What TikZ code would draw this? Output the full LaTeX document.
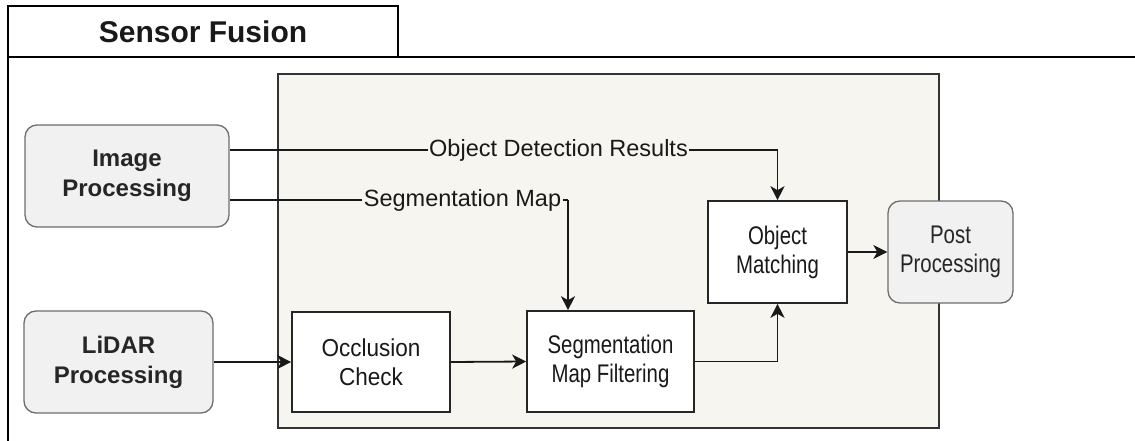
\documentclass[tikz,border=0pt]{standalone}
\usepackage{fontspec}
\setmainfont{Liberation Sans}
\newfontfamily\narrowfont[FakeStretch=0.8]{Liberation Sans}
\newfontfamily\midfont[FakeStretch=0.92]{Liberation Sans}
\usetikzlibrary{arrows.meta}

\definecolor{panel}{RGB}{247,245,240}
\definecolor{boxgray}{RGB}{241,241,241}
\definecolor{edgegray}{RGB}{110,110,110}

\tikzset{
  gbox/.style={draw=edgegray, fill=boxgray, rounded corners=12pt, line width=1.3pt,
    font=\bfseries\fontsize{24}{30}\selectfont, text=black!85, align=center, inner sep=0pt},
  wbox/.style={draw=black!85, fill=white, line width=1.6pt,
    font=\narrowfont\fontsize{25.5}{29}\selectfont, text=black!90, align=center, inner sep=0pt},
  lbl/.style={fill=panel, inner sep=1.5pt, font=\fontsize{23.5}{28}\selectfont, text=black!90},
  arr/.style={line width=1.8pt, draw=black!90, -{Stealth[length=14pt,width=14pt,inset=4pt]}},
  link/.style={line width=1.8pt, draw=black!90}
}

\begin{document}
\begin{tikzpicture}[x=1pt,y=-1pt]
\useasboundingbox (0,0) rectangle (1135,441);
\fill[white] (0,0) rectangle (1135,441);

% outer container with its title tab
\draw[line width=2pt, black] (8,441) -- (8,6) -- (398,6) -- (398,57);
\draw[line width=2pt, black] (8,57) -- (1135,57);
\node[font=\bfseries\fontsize{30}{36}\selectfont, text=black!90] (title) at (203,31.5) {Sensor Fusion};

% fusion panel
\draw[fill=panel, draw=black!80, line width=1.6pt] (278,74) rectangle (939,428);

% blocks
\node[gbox, minimum width=204pt, minimum height=102pt] (img) at (127,176) {Image\\Processing};
\node[gbox, minimum width=189pt, minimum height=102pt] (lidar) at (118.5,362) {LiDAR\\Processing};
\node[wbox, font=\midfont\fontsize{24.5}{29}\selectfont, minimum width=158pt, minimum height=100pt] (occ) at (371,362) {Occlusion\\Check};
\node[wbox, minimum width=167pt, minimum height=101pt] (smf) at (610.5,361.5) {Segmentation\\Map Filtering};
\node[wbox, minimum width=139pt, minimum height=102pt] (om) at (777.5,252) {Object\\Matching};
\node[gbox, font=\narrowfont\fontsize{25.5}{29}\selectfont, minimum width=125pt, minimum height=102pt] (post) at (950.5,252) {Post\\Processing};

% connectors
\coordinate (odrTurn) at (om.north |- 0,150);
\coordinate (smTurn) at (568,200);
\draw[link] ([yshift=26pt]img.east) -- (odrTurn);
\draw[arr] (odrTurn) -- (om.north);
\node[lbl] (odr) at (558.5,150) {Object Detection Results};

\draw[link] ([yshift=-24pt]img.east) -- (smTurn);
\draw[arr] (smTurn) -- (smTurn |- smf.north);
\node[lbl] (sml) at (462.5,200) {Segmentation Map};

\draw[arr] (lidar.east) -- (occ.west);
\draw[arr] (occ.east) -- (smf.west);
\draw[arr] (smf.east) -| (om.south);
\draw[arr] (om.east) -- (post.west);
\end{tikzpicture}
\end{document}
